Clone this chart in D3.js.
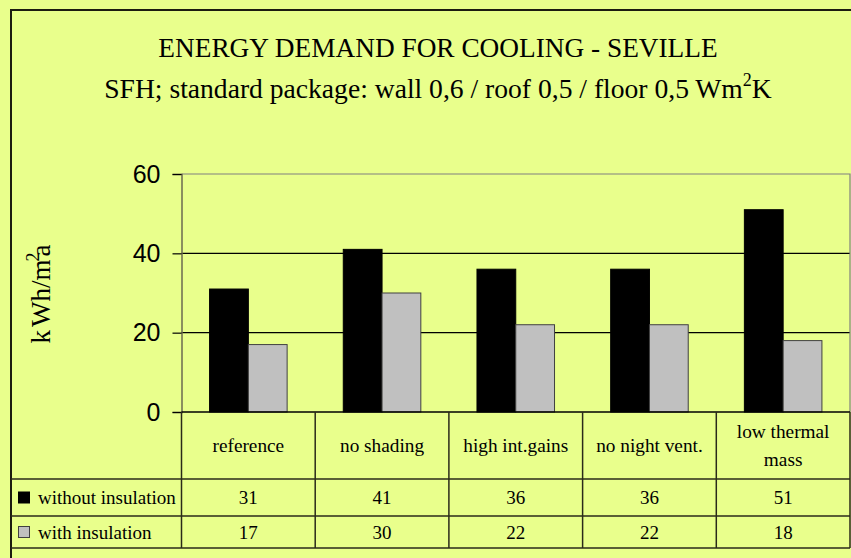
<!DOCTYPE html>
<html>
<head>
<meta charset="utf-8">
<script src="https://cdn.jsdelivr.net/npm/d3@7"></script>
<style>
  html, body { margin: 0; padding: 0; background: #E9FF8C; }
  svg { display: block; }
</style>
</head>
<body>
<svg id="chart" width="851" height="558"></svg>
<script>
// Cooling demand per scenario (kWh/m²a)
const categories = ["reference", "no shading", "high int.gains", "no night vent.", "low thermal mass"];
const categoryLines = [["reference"], ["no shading"], ["high int.gains"], ["no night vent."], ["low thermal", "mass"]];
const seriesNames = ["without insulation", "with insulation"];
const withoutInsulation = [31, 41, 36, 36, 51];
const withInsulation = [17, 30, 22, 22, 18];
const yTicks = [0, 20, 40, 60];

const seriesValues = [withoutInsulation, withInsulation];
const seriesFill = ["#000000", "#C0C0C0"];
const seriesStroke = ["#000000", "#404040"];

const W = 851, H = 558;
const bg = "#E9FF8C";
const serif = "'Liberation Serif', 'Times New Roman', serif";
const sans = "'Liberation Sans', Arial, sans-serif";

const svg = d3.select("#chart");
svg.append("rect").attr("width", W).attr("height", H).attr("fill", bg);

// Outer chart frame (runs off the right and bottom edges)
svg.append("rect")
  .attr("x", 11).attr("y", 10).attr("width", 900).attr("height", 600)
  .attr("fill", "none").attr("stroke", "#1c1c10").attr("stroke-width", 2);

// Plot geometry
const plot = { left: 181.5, right: 850, top: 174, bottom: 412 };
const table = { left: 11, header: 479, row1: 516, row2: 548 };

const x = d3.scaleBand().domain(categories).range([plot.left, plot.right]).paddingInner(0).paddingOuter(0);
const groupPad = 0.21;
const xs = d3.scaleBand().domain(d3.range(seriesNames.length))
  .range([x.bandwidth() * groupPad, x.bandwidth() * (1 - groupPad)]).padding(0);
const y = d3.scaleLinear().domain([0, 60]).range([plot.bottom, plot.top]);

// Gridlines
svg.append("g")
  .selectAll("line").data(yTicks.filter(t => t > 0 && t < 60)).join("line")
  .attr("x1", plot.left).attr("x2", plot.right)
  .attr("y1", d => y(d)).attr("y2", d => y(d))
  .attr("stroke", "#000").attr("stroke-width", 1.2);

// Plot frame (top/right grey)
svg.append("path")
  .attr("d", `M${plot.left},${y(60)}H${plot.right}V${plot.bottom}`)
  .attr("fill", "none").attr("stroke", "#808080").attr("stroke-width", 1.2);

// Bars
const groups = svg.append("g").selectAll("g").data(categories).join("g")
  .attr("transform", d => `translate(${x(d)},0)`);
groups.selectAll("rect")
  .data((d, i) => seriesValues.map((vals, s) => ({ s, v: vals[i] })))
  .join("rect")
  .attr("x", d => xs(d.s))
  .attr("width", xs.bandwidth())
  .attr("y", d => y(d.v))
  .attr("height", d => y(0) - y(d.v))
  .attr("fill", d => seriesFill[d.s])
  .attr("stroke", d => seriesStroke[d.s])
  .attr("stroke-width", 1);

// Y axis
const yAxis = d3.axisLeft(y).tickValues(yTicks).tickSize(9).tickPadding(12);
const ay = svg.append("g").attr("transform", `translate(${plot.left},0)`).call(yAxis);
ay.select(".domain").attr("stroke", "#6b6b50").attr("stroke-width", 1.5);
ay.selectAll(".tick line").attr("stroke", "#000").attr("stroke-width", 1.2);
ay.selectAll(".tick text").attr("font-family", sans).attr("font-size", 25).attr("fill", "#000");

// Baseline
svg.append("line")
  .attr("x1", plot.left).attr("x2", plot.right)
  .attr("y1", y(0)).attr("y2", y(0))
  .attr("stroke", "#000").attr("stroke-width", 1.5);

// Y axis title
const yt = svg.append("text")
  .attr("transform", `translate(50,294) rotate(-90)`)
  .attr("text-anchor", "middle")
  .attr("font-family", serif).attr("font-size", 27).attr("fill", "#000");
yt.append("tspan").text("k");
yt.append("tspan").attr("dx", 3).text("Wh/m");
yt.append("tspan").attr("dy", -11).attr("dx", -2).attr("font-size", 18).text("2");
yt.append("tspan").attr("dy", 11).attr("dx", -4).text("a");

// Titles
svg.append("text")
  .attr("x", 438).attr("y", 57).attr("text-anchor", "middle")
  .attr("font-family", serif).attr("font-size", 27.3).attr("fill", "#000")
  .text("ENERGY DEMAND FOR COOLING - SEVILLE");
const sub = svg.append("text")
  .attr("x", 438).attr("y", 98).attr("text-anchor", "middle")
  .attr("font-family", serif).attr("font-size", 27.6).attr("fill", "#000");
sub.append("tspan").text("SFH; standard package: wall 0,6 / roof 0,5 / floor 0,5 Wm");
sub.append("tspan").attr("dy", -12).attr("font-size", 18).text("2");
sub.append("tspan").attr("dy", 12).text("K");

// Data table
const tbl = svg.append("g").attr("stroke", "#2a2a1a").attr("stroke-width", 1.5);
const bounds = categories.map(c => x(c)).concat([plot.right]);
tbl.selectAll("line.v").data(bounds).join("line")
  .attr("x1", d => d).attr("x2", d => d)
  .attr("y1", plot.bottom).attr("y2", table.row2);
tbl.selectAll("line.h").data([table.header, table.row1, table.row2]).join("line")
  .attr("x1", table.left).attr("x2", plot.right)
  .attr("y1", d => d).attr("y2", d => d);

// Category labels
const catText = svg.append("g").selectAll("text").data(categories).join("text")
  .attr("x", d => x(d) + x.bandwidth() / 2)
  .attr("text-anchor", "middle")
  .attr("font-family", serif).attr("font-size", 19.3).attr("fill", "#000");
catText.each(function (d, i) {
  const lines = categoryLines[i];
  const mid = (plot.bottom + table.header) / 2;
  const lh = 28;
  const t = d3.select(this);
  lines.forEach((ln, k) => {
    t.append("tspan")
      .attr("x", x(d) + x.bandwidth() / 2)
      .attr("y", mid + 6.5 + (k - (lines.length - 1) / 2) * lh)
      .text(ln);
  });
});

// Value rows with legend keys
const rowMid = [(table.header + table.row1) / 2, (table.row1 + table.row2) / 2];
seriesNames.forEach((name, s) => {
  const cy = rowMid[s];
  svg.append("rect")
    .attr("x", 18.5).attr("y", cy - 5.5).attr("width", 11).attr("height", 11)
    .attr("fill", seriesFill[s]).attr("stroke", seriesStroke[s]).attr("stroke-width", 1);
  svg.append("text")
    .attr("x", 38).attr("y", cy + 6.5)
    .attr("font-family", serif).attr("font-size", 19).attr("fill", "#000")
    .text(name);
  svg.append("g").selectAll("text").data(seriesValues[s]).join("text")
    .attr("x", (d, i) => x(categories[i]) + x.bandwidth() / 2)
    .attr("y", cy + 6.5)
    .attr("text-anchor", "middle")
    .attr("font-family", serif).attr("font-size", 19).attr("fill", "#000")
    .text(d => d);
});
</script>
</body>
</html>
